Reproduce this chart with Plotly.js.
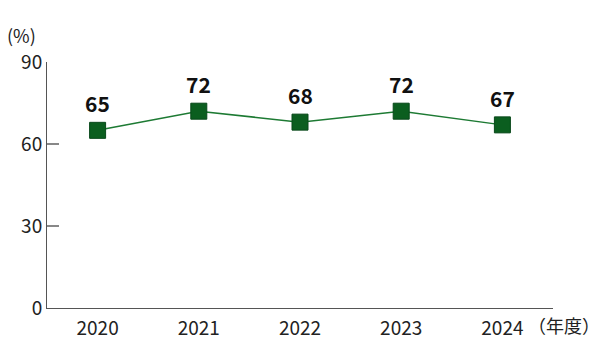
<!DOCTYPE html>
<html>
<head>
<meta charset="utf-8">
<script src="https://cdn.plot.ly/plotly-3.0.1.min.js"></script>
<style>html,body{margin:0;padding:0;background:#fff;}#chart{width:600px;height:362px;}</style>
</head>
<body>
<div id="chart"></div>
<script>
const years = ["2020", "2021", "2022", "2023", "2024"];
const values = [65, 72, 68, 72, 67];
const yTicks = [0, 30, 60, 90];

const FONT = '"Noto Sans CJK JP", "Noto Sans", sans-serif';

const trace = {
  x: years,
  y: values,
  type: 'scatter',
  mode: 'lines+markers',
  line: {color: '#1d7a33', width: 1.5},
  marker: {symbol: 'square', size: 16, color: '#0b5e1f', line: {color: '#08481a', width: 1}},
  cliponaxis: false,
  hoverinfo: 'none'
};

const valueLabels = years.map((yr, i) => ({
  x: i, y: values[i], xref: 'x', yref: 'y',
  text: '<b>' + values[i] + '</b>', showarrow: false,
  yanchor: 'middle', yshift: 27,
  font: {family: FONT, size: 21, color: '#111'}
}));

const layout = {
  width: 600, height: 362,
  margin: {l: 47, r: 47, t: 62, b: 54},
  paper_bgcolor: '#fff', plot_bgcolor: '#fff',
  showlegend: false,
  font: {family: FONT, size: 19, color: '#222'},
  xaxis: {
    type: 'category', range: [-0.5, 4.5],
    showline: true, linecolor: '#555', linewidth: 1,
    ticks: '', showgrid: false, zeroline: false,
    ticklabelstandoff: 3,
    tickfont: {family: FONT, size: 19, color: '#222'}
  },
  yaxis: {
    range: [0, 90], tickvals: yTicks, ticktext: yTicks.map(String),
    showline: true, linecolor: '#555', linewidth: 1,
    ticks: 'inside', ticklen: 12, tickcolor: '#888', tickwidth: 1.5,
    showgrid: false, zeroline: false,
    tickfont: {family: FONT, size: 19, color: '#222'}
  },
  annotations: valueLabels.concat([
    {xref: 'paper', yref: 'paper', x: -0.017, y: 1.0, xanchor: 'right', yanchor: 'middle', yshift: 27,
     text: '(%)', showarrow: false, font: {family: FONT, size: 18, color: '#222'}},
    {xref: 'paper', yref: 'paper', x: 0.946, y: 0, xanchor: 'left', yanchor: 'middle', yshift: -17,
     text: '（年度）', showarrow: false, font: {family: FONT, size: 18, color: '#222'}}
  ])
};

Plotly.newPlot('chart', [trace], layout, {displayModeBar: false, staticPlot: true});
</script>
</body>
</html>
